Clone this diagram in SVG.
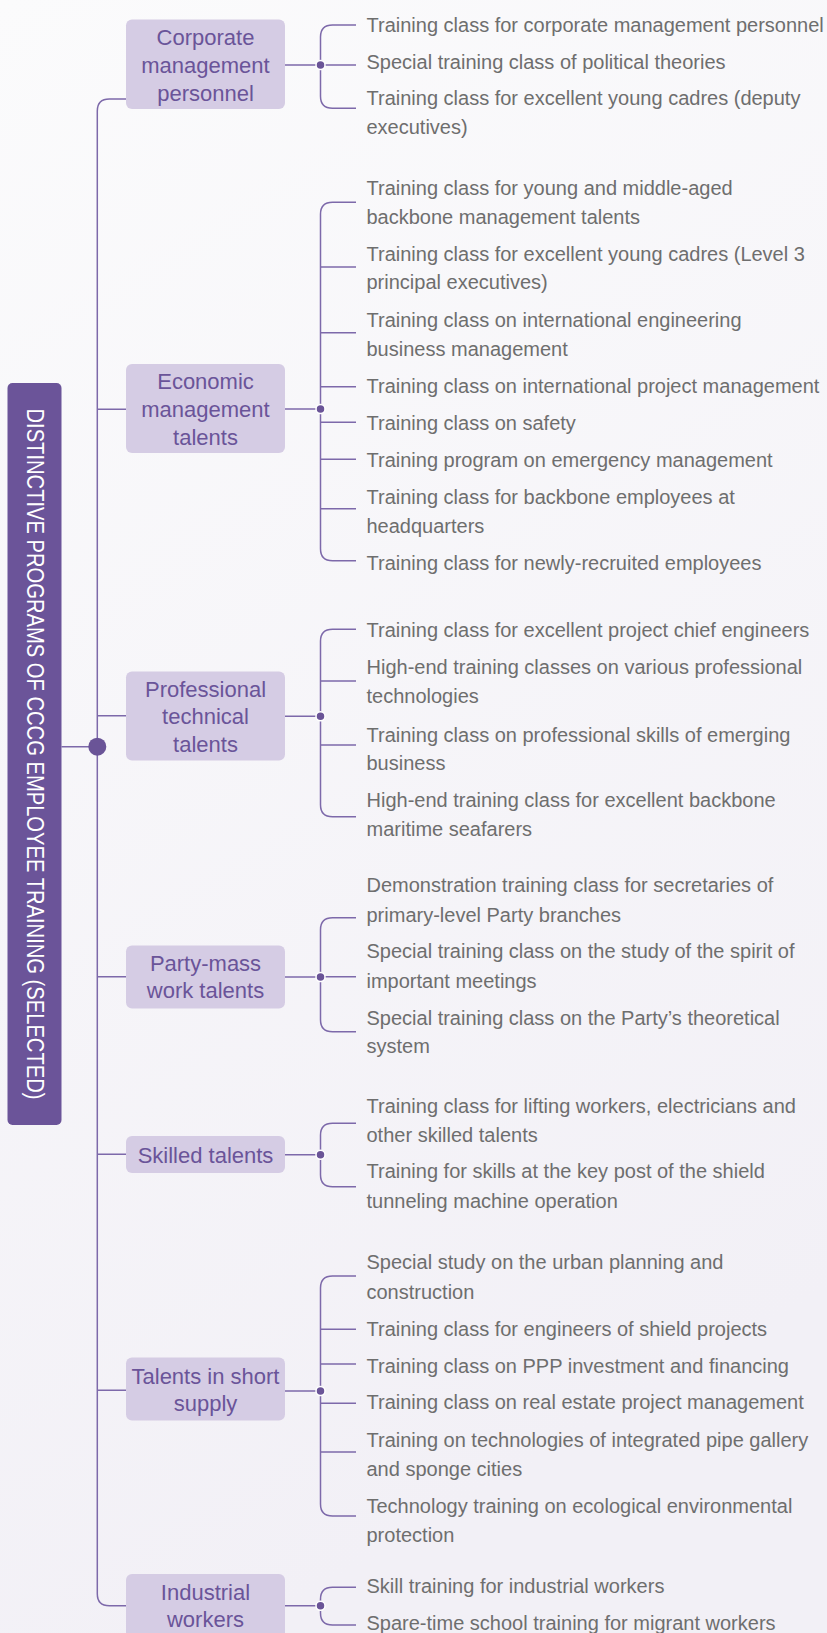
<svg xmlns="http://www.w3.org/2000/svg" width="827" height="1633" viewBox="0 0 827 1633">
<defs>
<linearGradient id="bg" x1="0" y1="0" x2="0.3" y2="1">
<stop offset="0" stop-color="#fbfbfc"/>
<stop offset="1" stop-color="#f2f0f6"/>
</linearGradient>
<style>
.ln{fill:none;stroke:#7d69aa;stroke-width:1.5}
.hub{fill:#6a5497;stroke:#ffffff;stroke-width:1.5}
.box{fill:#d5cce4}
.nt{font-family:"Liberation Sans",Arial,sans-serif;font-size:22px;fill:#6a5499;text-anchor:middle}
.lt{font-family:"Liberation Sans",Arial,sans-serif;font-size:20px;fill:#6e6e6e}
.rt{font-family:"Liberation Sans",Arial,sans-serif;font-size:23px;fill:#ffffff;text-anchor:middle}
</style>
</defs>
<rect x="0" y="0" width="827" height="1633" fill="url(#bg)"/>

<g id="connectors">
<path class="ln" d="M61.5,746.7 H97.3"/>
<path class="ln" d="M126,99 H109.3 Q97.3,99 97.3,111 V1593.7 Q97.3,1605.7 109.3,1605.7 H126"/>
<path class="ln" d="M97.3,409.3 H126 M97.3,715.7 H126 M97.3,976.7 H126 M97.3,1154.3 H126 M97.3,1390.3 H126"/>
<circle cx="97.3" cy="746.7" r="9" fill="#6a5497"/>

<path class="ln" d="M285,65 H320.5 M285,409 H320.5 M285,716.3 H320.5 M285,977 H320.5 M285,1154.7 H320.5 M285,1391 H320.5 M285,1605.7 H320.5"/>

<path class="ln" d="M356,25 H332.5 Q320.5,25 320.5,37 V96.3 Q320.5,108.3 332.5,108.3 H356 M320.5,65 H356"/>
<path class="ln" d="M356,202.3 H332.5 Q320.5,202.3 320.5,214.3 V548.7 Q320.5,560.7 332.5,560.7 H356 M320.5,267 H356 M320.5,332.7 H356 M320.5,386.7 H356 M320.5,422.3 H356 M320.5,459.3 H356 M320.5,508.7 H356"/>
<path class="ln" d="M356,629.3 H332.5 Q320.5,629.3 320.5,641.3 V804.7 Q320.5,816.7 332.5,816.7 H356 M320.5,681 H356 M320.5,745 H356"/>
<path class="ln" d="M356,917.7 H332.5 Q320.5,917.7 320.5,929.7 V1019.7 Q320.5,1031.7 332.5,1031.7 H356 M320.5,976.7 H356"/>
<path class="ln" d="M356,1123.3 H332.5 Q320.5,1123.3 320.5,1135.3 V1174.7 Q320.5,1186.7 332.5,1186.7 H356"/>
<path class="ln" d="M356,1276 H332.5 Q320.5,1276 320.5,1288 V1504 Q320.5,1516 332.5,1516 H356 M320.5,1329.3 H356 M320.5,1364 H356 M320.5,1403.3 H356 M320.5,1452 H356"/>
<path class="ln" d="M356,1587.3 H332.5 Q320.5,1587.3 320.5,1599.3 V1613 Q320.5,1625 332.5,1625 H356"/>

<circle class="hub" cx="320.5" cy="65" r="4.5"/>
<circle class="hub" cx="320.5" cy="409" r="4.5"/>
<circle class="hub" cx="320.5" cy="716.3" r="4.5"/>
<circle class="hub" cx="320.5" cy="977" r="4.5"/>
<circle class="hub" cx="320.5" cy="1154.7" r="4.5"/>
<circle class="hub" cx="320.5" cy="1391" r="4.5"/>
<circle class="hub" cx="320.5" cy="1605.7" r="4.5"/>
</g>

<g id="root">
<rect x="7.5" y="383" width="54" height="742" rx="5" fill="#6b5499"/>
<text class="rt" x="34.5" y="762" transform="rotate(90 34.5 754)" textLength="691" lengthAdjust="spacingAndGlyphs">DISTINCTIVE PROGRAMS OF CCCG EMPLOYEE TRAINING (SELECTED)</text>
</g>

<g id="node-corporate">
<rect class="box" x="126" y="19.5" width="159" height="89.5" rx="6"/>
<text class="nt"><tspan x="205.5" y="44.5">Corporate</tspan><tspan x="205.5" y="72.5">management</tspan><tspan x="205.5" y="100.5">personnel</tspan></text>
</g>
<g id="node-economic">
<rect class="box" x="126" y="364" width="159" height="89" rx="6"/>
<text class="nt"><tspan x="205.5" y="388.5">Economic</tspan><tspan x="205.5" y="416.5">management</tspan><tspan x="205.5" y="444.5">talents</tspan></text>
</g>
<g id="node-professional">
<rect class="box" x="126" y="671.5" width="159" height="89" rx="6"/>
<text class="nt"><tspan x="205.5" y="696.5">Professional</tspan><tspan x="205.5" y="724">technical</tspan><tspan x="205.5" y="751.5">talents</tspan></text>
</g>
<g id="node-party">
<rect class="box" x="126" y="945.5" width="159" height="63" rx="6"/>
<text class="nt"><tspan x="205.5" y="970.5">Party-mass</tspan><tspan x="205.5" y="998">work talents</tspan></text>
</g>
<g id="node-skilled">
<rect class="box" x="126" y="1136" width="159" height="37" rx="6"/>
<text class="nt" x="205.5" y="1163">Skilled talents</text>
</g>
<g id="node-short">
<rect class="box" x="126" y="1357.5" width="159" height="63" rx="6"/>
<text class="nt"><tspan x="205.5" y="1383.5">Talents in short</tspan><tspan x="205.5" y="1411">supply</tspan></text>
</g>
<g id="node-industrial">
<rect class="box" x="126" y="1574" width="159" height="64" rx="6"/>
<text class="nt"><tspan x="205.5" y="1599.5">Industrial</tspan><tspan x="205.5" y="1627">workers</tspan></text>
</g>

<g id="leaves-corporate" class="lt">
<text class="lt" x="366.5" y="31.7">Training class for corporate management personnel</text>
<text class="lt" x="366.5" y="69">Special training class of political theories</text>
<text class="lt"><tspan x="366.5" y="105">Training class for excellent young cadres (deputy</tspan><tspan x="366.5" y="134">executives)</tspan></text>
</g>
<g id="leaves-economic">
<text class="lt"><tspan x="366.5" y="195">Training class for young and middle-aged</tspan><tspan x="366.5" y="224">backbone management talents</tspan></text>
<text class="lt"><tspan x="366.5" y="260.7">Training class for excellent young cadres (Level 3</tspan><tspan x="366.5" y="289.3">principal executives)</tspan></text>
<text class="lt"><tspan x="366.5" y="326.7">Training class on international engineering</tspan><tspan x="366.5" y="355.7">business management</tspan></text>
<text class="lt" x="366.5" y="392.7">Training class on international project management</text>
<text class="lt" x="366.5" y="430">Training class on safety</text>
<text class="lt" x="366.5" y="466.7">Training program on emergency management</text>
<text class="lt"><tspan x="366.5" y="504">Training class for backbone employees at</tspan><tspan x="366.5" y="532.7">headquarters</tspan></text>
<text class="lt" x="366.5" y="570">Training class for newly-recruited employees</text>
</g>
<g id="leaves-professional">
<text class="lt" x="366.5" y="636.7">Training class for excellent project chief engineers</text>
<text class="lt"><tspan x="366.5" y="674">High-end training classes on various professional</tspan><tspan x="366.5" y="703.3">technologies</tspan></text>
<text class="lt"><tspan x="366.5" y="741.7">Training class on professional skills of emerging</tspan><tspan x="366.5" y="770">business</tspan></text>
<text class="lt"><tspan x="366.5" y="806.7">High-end training class for excellent backbone</tspan><tspan x="366.5" y="836">maritime seafarers</tspan></text>
</g>
<g id="leaves-party">
<text class="lt"><tspan x="366.5" y="892.3">Demonstration training class for secretaries of</tspan><tspan x="366.5" y="921.7">primary-level Party branches</tspan></text>
<text class="lt"><tspan x="366.5" y="958.3">Special training class on the study of the spirit of</tspan><tspan x="366.5" y="987.7">important meetings</tspan></text>
<text class="lt"><tspan x="366.5" y="1025">Special training class on the Party’s theoretical</tspan><tspan x="366.5" y="1053.3">system</tspan></text>
</g>
<g id="leaves-skilled">
<text class="lt"><tspan x="366.5" y="1112.7">Training class for lifting workers, electricians and</tspan><tspan x="366.5" y="1141.7">other skilled talents</tspan></text>
<text class="lt"><tspan x="366.5" y="1178.3">Training for skills at the key post of the shield</tspan><tspan x="366.5" y="1208.3">tunneling machine operation</tspan></text>
</g>
<g id="leaves-short">
<text class="lt"><tspan x="366.5" y="1269.3">Special study on the urban planning and</tspan><tspan x="366.5" y="1299">construction</tspan></text>
<text class="lt" x="366.5" y="1335.7">Training class for engineers of shield projects</text>
<text class="lt" x="366.5" y="1372.7">Training class on PPP investment and financing</text>
<text class="lt" x="366.5" y="1409.3">Training class on real estate project management</text>
<text class="lt"><tspan x="366.5" y="1446.7">Training on technologies of integrated pipe gallery</tspan><tspan x="366.5" y="1476">and sponge cities</tspan></text>
<text class="lt"><tspan x="366.5" y="1512.7">Technology training on ecological environmental</tspan><tspan x="366.5" y="1542">protection</tspan></text>
</g>
<g id="leaves-industrial">
<text class="lt" x="366.5" y="1592.5">Skill training for industrial workers</text>
<text class="lt" x="366.5" y="1630">Spare-time school training for migrant workers</text>
</g>
</svg>
